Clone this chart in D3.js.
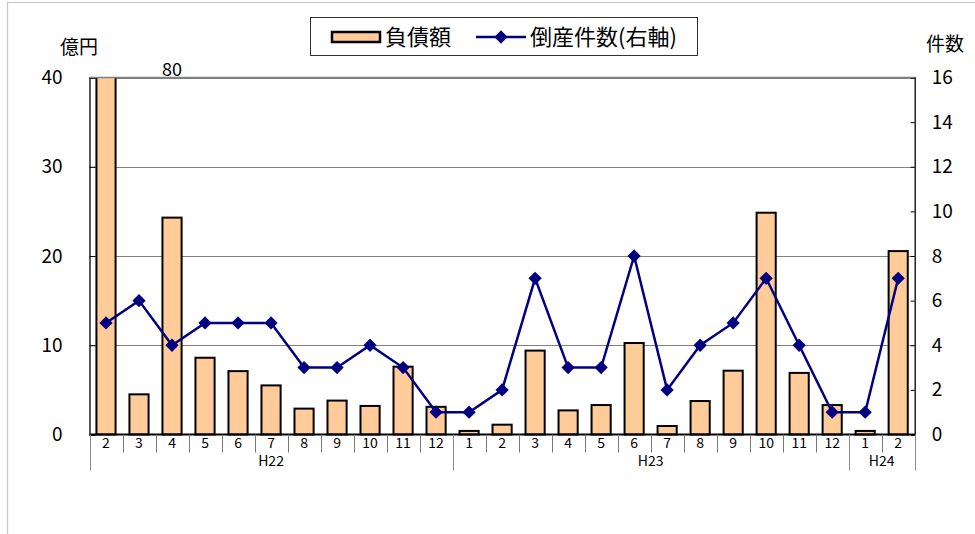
<!DOCTYPE html>
<html>
<head>
<meta charset="utf-8">
<script src="https://cdn.jsdelivr.net/npm/d3@7"></script>
<style>
  html, body { margin: 0; padding: 0; background: #fff; }
  svg { display: block; font-family: "Noto Sans CJK JP", "Noto Sans", sans-serif; }
</style>
</head>
<body>
<svg id="chart" width="975" height="534"></svg>
<script>
// ---- data ----
const monthLabels = ["2","3","4","5","6","7","8","9","10","11","12",
                     "1","2","3","4","5","6","7","8","9","10","11","12",
                     "1","2"];
const groupNames = ["H22", "H23", "H24"];
const groupSizes = [11, 12, 2];
// 負債額 (億円)
const debt = [80, 4.5, 24.3, 8.6, 7.1, 5.5, 2.9, 3.8, 3.2, 7.6, 3.1,
              0.4, 1.1, 9.4, 2.7, 3.3, 10.25, 0.95, 3.75, 7.15, 24.85, 6.9, 3.3,
              0.4, 20.55];
// 倒産件数 (件)
const counts = [5, 6, 4, 5, 5, 5, 3, 3, 4, 3, 1,
                1, 2, 7, 3, 3, 8, 2, 4, 5, 7, 4, 1,
                1, 7];
const leftTicks = [0, 10, 20, 30, 40];
const rightTicks = [0, 2, 4, 6, 8, 10, 12, 14, 16];
const seriesNames = ["負債額", "倒産件数(右軸)"];
const leftUnit = "億円", rightUnit = "件数";
const overflowLabel = "80";

// ---- build ----
const groupOf = [];
groupNames.forEach((g, gi) => { for (let i = 0; i < groupSizes[gi]; i++) groupOf.push(g); });
const keys = monthLabels.map((m, i) => groupOf[i] + "-" + m);
const rows = keys.map((k, i) => ({ key: k, month: monthLabels[i], group: groupOf[i], debt: debt[i], count: counts[i] }));

const svg = d3.select("#chart");
const L = 89.5, R = 914.7, T = 77.5, B = 434.5;

const x = d3.scaleBand().domain(keys).range([L, R]).paddingInner(0.42).paddingOuter(0.21);
const step = x.step();
const yL = d3.scaleLinear().domain([0, 40]).range([B, T]);
const yR = d3.scaleLinear().domain([0, 16]).range([B, T]);
const cx = k => x(k) + x.bandwidth() / 2;

// outer frame
svg.append("rect").attr("x", 7.5).attr("y", 2.5).attr("width", 1000).attr("height", 700)
  .attr("fill", "none").attr("stroke", "#c8c8c8").attr("stroke-width", 1.2);

// gridlines
svg.append("g").selectAll("line").data(leftTicks.filter(d => d > 0)).join("line")
  .attr("x1", L).attr("x2", R).attr("y1", d => Math.round(yL(d)) + 0.5).attr("y2", d => Math.round(yL(d)) + 0.5)
  .attr("stroke", "#808080").attr("stroke-width", 1);

// clip for bars
svg.append("clipPath").attr("id", "plotclip").append("rect")
  .attr("x", L).attr("y", T).attr("width", R - L).attr("height", B - T + 2);

// bars
svg.append("g").attr("clip-path", "url(#plotclip)").selectAll("rect").data(rows).join("rect")
  .attr("x", d => x(d.key)).attr("width", x.bandwidth())
  .attr("y", d => yL(d.debt)).attr("height", d => B - yL(d.debt))
  .attr("fill", "#FFCC99").attr("stroke", "#000").attr("stroke-width", 2);

// overflow label
svg.append("text").attr("x", cx(keys[2])).attr("y", T - 2).attr("text-anchor", "middle")
  .attr("font-size", 18).attr("fill", "#000").text(overflowLabel);

// left axis
const axL = svg.append("g").attr("transform", `translate(${L},0)`)
  .call(d3.axisLeft(yL).tickValues(leftTicks).tickSize(-6).tickPadding(27).tickFormat(d3.format("d")));
axL.select(".domain").attr("stroke", "#000").attr("stroke-width", 1.3);
axL.selectAll(".tick line").attr("stroke", "#000");
axL.selectAll("text").attr("font-size", 19).attr("font-family", "'Noto Sans CJK JP', sans-serif").attr("fill", "#000");

// right axis
const axR = svg.append("g").attr("transform", `translate(${R},0)`)
  .call(d3.axisRight(yR).tickValues(rightTicks).tickSize(-4).tickPadding(17).tickFormat(d3.format("d")));
axR.select(".domain").attr("stroke", "#000").attr("stroke-width", 1.3);
axR.selectAll(".tick line").attr("stroke", "#000");
axR.selectAll("text").attr("font-size", 19).attr("font-family", "'Noto Sans CJK JP', sans-serif").attr("fill", "#000");

// top border line
svg.append("line").attr("x1", L).attr("x2", R).attr("y1", T).attr("y2", T)
  .attr("stroke", "#808080").attr("stroke-width", 1.3);

// x axis baseline
svg.append("line").attr("x1", L).attr("x2", R).attr("y1", B).attr("y2", B)
  .attr("stroke", "#000").attr("stroke-width", 2);

// category separators
const groupBounds = [0];
groupSizes.reduce((acc, s) => { groupBounds.push(acc + s); return acc + s; }, 0);
const sepIdx = d3.range(keys.length + 1);
svg.append("g").selectAll("line").data(sepIdx).join("line")
  .attr("x1", i => Math.round(L + i * step) + 0.5).attr("x2", i => Math.round(L + i * step) + 0.5)
  .attr("y1", B).attr("y2", i => groupBounds.includes(i) ? B + 36 : B + 18)
  .attr("stroke", i => groupBounds.includes(i) ? "#8c8c8c" : "#777").attr("stroke-width", 1);

// month labels
svg.append("g").selectAll("text").data(rows).join("text")
  .attr("x", d => cx(d.key)).attr("y", 443).attr("dy", "0.35em").attr("text-anchor", "middle")
  .attr("font-size", 14).attr("fill", "#000").text(d => d.month);

// group labels
svg.append("g").selectAll("text").data(groupNames).join("text")
  .attr("x", (g, gi) => L + (groupBounds[gi] + groupBounds[gi + 1]) / 2 * step)
  .attr("y", 461.5).attr("dy", "0.35em").attr("text-anchor", "middle")
  .attr("font-size", 14).attr("fill", "#000").text(g => g);

// line series
const line = d3.line().x(d => cx(d.key)).y(d => yR(d.count));
svg.append("path").datum(rows).attr("d", line)
  .attr("fill", "none").attr("stroke", "#000080").attr("stroke-width", 2.5);
const diamond = d3.symbol(d3.symbolSquare, 88);
svg.append("g").selectAll("path").data(rows).join("path")
  .attr("d", diamond).attr("transform", d => `translate(${cx(d.key)},${yR(d.count)}) rotate(45)`)
  .attr("fill", "#000080");

// unit labels
svg.append("text").attr("x", 79).attr("y", 47).attr("dy", "0.35em").attr("text-anchor", "middle")
  .attr("font-size", 19).attr("fill", "#000").text(leftUnit);
svg.append("text").attr("x", 945).attr("y", 44.5).attr("dy", "0.35em").attr("text-anchor", "middle")
  .attr("font-size", 19).attr("fill", "#000").text(rightUnit);

// legend
const lg = svg.append("g");
lg.append("rect").attr("x", 310.5).attr("y", 17.5).attr("width", 387).attr("height", 38)
  .attr("fill", "#fff").attr("stroke", "#333").attr("stroke-width", 1);
lg.append("rect").attr("x", 332).attr("y", 32).attr("width", 48).attr("height", 10)
  .attr("fill", "#FFCC99").attr("stroke", "#000").attr("stroke-width", 2.5);
lg.append("text").attr("x", 385).attr("y", 37).attr("dy", "0.36em")
  .attr("font-size", 22).attr("fill", "#000").text(seriesNames[0]);
lg.append("line").attr("x1", 476).attr("x2", 526).attr("y1", 37).attr("y2", 37)
  .attr("stroke", "#000080").attr("stroke-width", 2.5);
lg.append("path").attr("d", diamond).attr("transform", "translate(501,37) rotate(45)").attr("fill", "#000080");
lg.append("text").attr("x", 530).attr("y", 37).attr("dy", "0.36em")
  .attr("font-size", 22).attr("fill", "#000").text(seriesNames[1]);
</script>
</body>
</html>
